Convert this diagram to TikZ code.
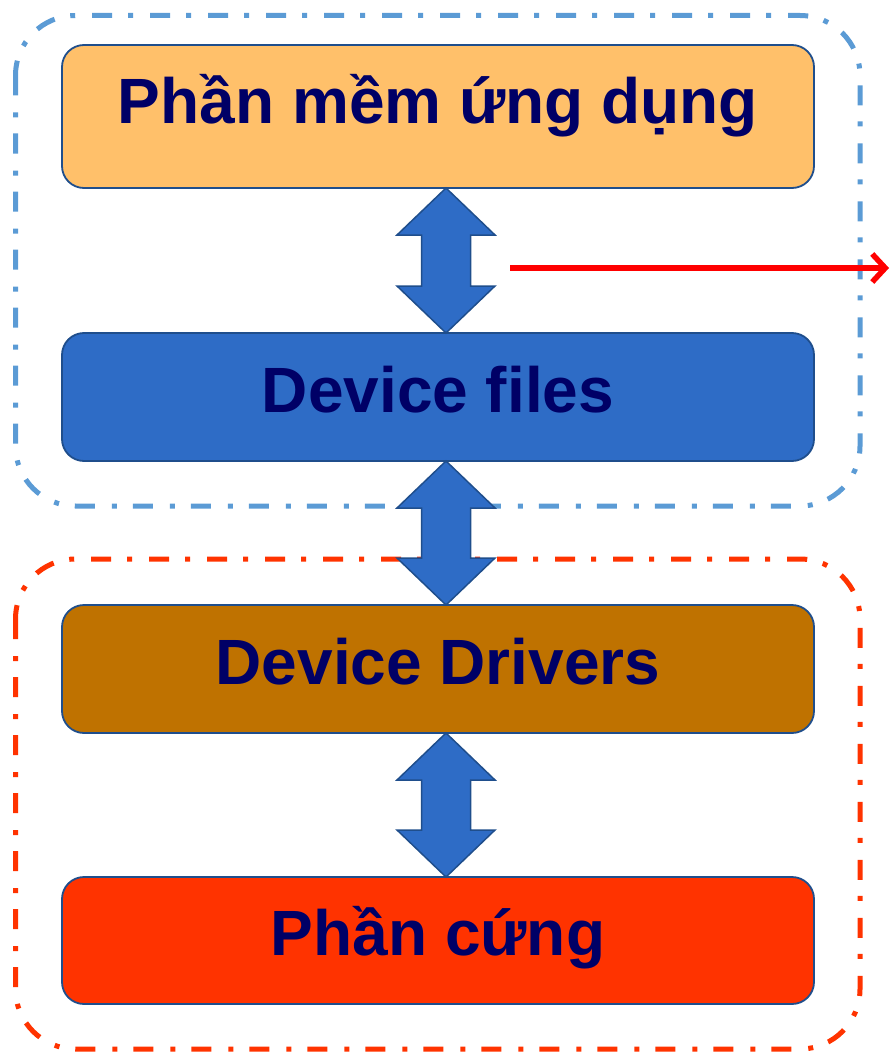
\documentclass[tikz,border=0pt]{standalone}
\usepackage{fontspec}
\setmainfont{Liberation Sans}
\usetikzlibrary{arrows.meta}
\definecolor{navy}{RGB}{0,0,102}
\definecolor{edge}{RGB}{31,78,140}
\definecolor{orangebox}{RGB}{255,192,106}
\definecolor{bluebox}{RGB}{46,108,198}
\definecolor{brownbox}{RGB}{191,114,0}
\definecolor{redbox}{RGB}{255,51,0}
\definecolor{dashblue}{RGB}{91,155,213}
\definecolor{dashred}{RGB}{255,51,0}
\newcommand\dblarr[2]{%
  \filldraw[dblarrow] (446,#1) -- (495,{#1+47}) -- (470.5,{#1+47}) -- (470.5,{#2-47}) -- (495,{#2-47})
   -- (446,#2) -- (397,{#2-47}) -- (421.5,{#2-47}) -- (421.5,{#1+47}) -- (397,{#1+47}) -- cycle;}
\begin{document}
\begin{tikzpicture}[x=1pt,y=-1pt,
  layer/.style={draw=edge, line width=1.8pt, rounded corners=22pt, minimum width=752pt,
    text=navy, font=\fontsize{64}{76}\selectfont\bfseries, inner sep=0pt,
    text height=47pt, text depth=17pt},
  dblarrow/.style={fill=bluebox, draw=edge, line width=1.5pt, line join=miter},
  groupbox/.style={line width=5pt, rounded corners=60pt, dash pattern=on 20pt off 17pt on 5pt off 16pt}]
\useasboundingbox (0,0) rectangle (889,1054);
\draw[groupbox, draw=dashblue] (15.5,15.5) rectangle (860,506);
\draw[groupbox, draw=dashred] (15.5,559) rectangle (860,1049);
\node[layer, fill=orangebox, minimum height=143pt, text depth=32pt] (app) at (438,116.5) {Phần mềm ứng dụng};
\node[layer, fill=bluebox, minimum height=128pt] (dev) at (438,397) {Device files};
\node[layer, fill=brownbox, minimum height=128pt] (drv) at (438,669) {Device Drivers};
\node[layer, fill=redbox, minimum height=127pt] (hw) at (438,940.5) {Phần cứng};
\dblarr{188}{333}
\dblarr{461}{605}
\dblarr{733}{877}
\coordinate (rs) at (510,268);
\coordinate (re) at (889,268);
\draw[red, line width=5.5pt, -{Straight Barb[length=13pt,width=28pt,line width=5.5pt]}] (rs) -- (re);
\end{tikzpicture}
\end{document}
